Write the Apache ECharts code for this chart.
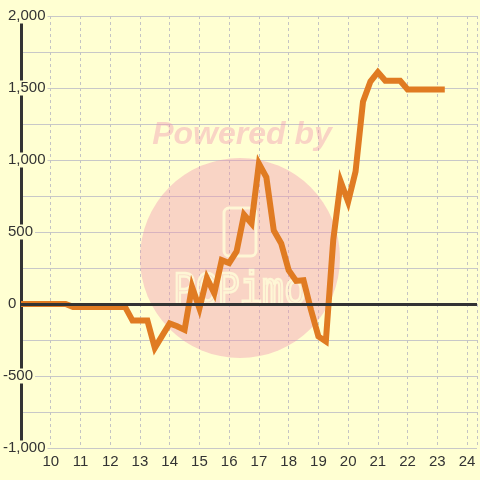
<!DOCTYPE html>
<html>
<head>
<meta charset="utf-8">
<script src="https://cdn.jsdelivr.net/npm/echarts@6/dist/echarts.min.js"></script>
<style>
html,body{margin:0;padding:0;background:#ffffd2;}
#main{width:480px;height:480px;}
</style>
</head>
<body>
<div id="main"></div>
<script>
// 数据：时间(小时) 与 数值
var hours = [9,9.25,9.5,9.75,10,10.25,10.5,10.75,11,11.25,11.5,11.75,12,12.25,12.5,12.75,
	13,13.25,13.5,13.75,14,14.25,14.5,14.75,15,15.25,15.5,15.75,16,16.25,16.5,16.75,
	17,17.25,17.5,17.75,18,18.25,18.5,18.75,19,19.25,19.5,19.75,20,20.25,20.5,20.75,
	21,21.25,21.5,21.75,22,22.25,22.5,22.75,23,23.25];
var values = [0,0,0,0,0,0,0,-20,-20,-20,-20,-20,-20,-20,-20,-115,
	-115,-115,-305,-220,-135,-155,-180,120,-30,180,75,305,285,365,620,560,
	975,880,510,420,235,160,165,-40,-225,-260,445,850,710,920,1405,1545,
	1610,1550,1550,1550,1490,1490,1490,1490,1490,1490];
var xTicks = [10,11,12,13,14,15,16,17,18,19,20,21,22,23,24];
var yTicks = [-1000,-500,0,500,1000,1500,2000];

var bg = '#ffffd2';
var labelFont = '"Liberation Sans", Arial, sans-serif';
var seriesData = [];
for (var i = 0; i < hours.length; i++) {
	seriesData.push([hours[i], values[i]]);
}

var myChart = echarts.init(document.getElementById('main'), null, {renderer:'canvas'});
var option = {
	backgroundColor: bg,
	animation: false,
	grid: { left: 20, right: 0, top: 16, bottom: 32, containLabel: false },
	graphic: [
		{ type:'circle', z:1, silent:true, shape:{cx:240, cy:258, r:100},
		  style:{fill:'rgba(240,147,177,0.4)'} },
		{ type:'rect', z:1, silent:true, shape:{x:224, y:208, width:32, height:48, r:5},
		  style:{fill:'none', stroke:'rgba(255,252,215,0.85)', lineWidth:3} },
		{ type:'text', z:1, silent:true, x:240, y:292, scaleX:0.8,
		  style:{text:'PCPimo', fill:'rgba(255,250,220,0.25)', stroke:'rgba(255,252,215,0.85)', lineWidth:2.5,
		  font:'46px "Liberation Mono", monospace', textAlign:'center', textVerticalAlign:'middle'} },
		{ type:'text', z:1, silent:true, x:242, y:135,
		  style:{text:'Powered by', fill:'rgba(240,147,177,0.4)',
		  font:'italic bold 32px "Liberation Sans", Arial, sans-serif', textAlign:'center', textVerticalAlign:'middle'} }
	],
	xAxis: {
		type: 'value',
		min: 9,
		max: 9 + 460 / 30,
		interval: 1,
		axisLine: { show: false },
		axisTick: { show: false },
		axisLabel: {
			margin: 6,
			fontSize: 15,
			fontFamily: labelFont,
			color: '#333',
			formatter: function(v){ return xTicks.indexOf(v) >= 0 ? String(v) : ''; }
		},
		splitLine: { show: true, lineStyle: { color: '#c4c4c4', type: [3,3], width: 1 } }
	},
	yAxis: {
		type: 'value',
		min: -1000,
		max: 2000,
		interval: 250,
		axisLine: { show: true, lineStyle: { color: '#333', width: 3 } },
		axisTick: { show: false },
		axisLabel: {
			margin: 18,
			align: 'left',
			fontSize: 15,
			fontFamily: labelFont,
			color: '#333',
			formatter: function(v){
				if (yTicks.indexOf(v) < 0) return '';
				var s = echarts.format.addCommas(v);
				return v < 0 ? '{n|' + s + '}' : '{p|' + s + '}';
			},
			rich: {
				n: { fontSize: 15, fontFamily: labelFont, color: '#333', backgroundColor: bg, padding: [0, 2, 0, 0] },
				p: { fontSize: 15, fontFamily: labelFont, color: '#333', backgroundColor: bg, padding: [0, 2, 0, 5] }
			}
		},
		splitLine: { show: true, lineStyle: { color: '#c8c8c8', width: 1 } }
	},
	series: [
		{
			type: 'line',
			data: [],
			z: 1,
			silent: true,
			markLine: {
				silent: true,
				symbol: ['none','none'],
				label: { show: false },
				lineStyle: { color: '#333', width: 3, type: 'solid' },
				data: [{ yAxis: 0 }]
			}
		},
		{
			type: 'line',
			data: seriesData,
			z: 3,
			showSymbol: false,
			symbol: 'none',
			lineStyle: { color: '#e07b22', width: 6, join: 'miter', cap: 'butt' }
		}
	]
};
myChart.setOption(option);
</script>
</body>
</html>
